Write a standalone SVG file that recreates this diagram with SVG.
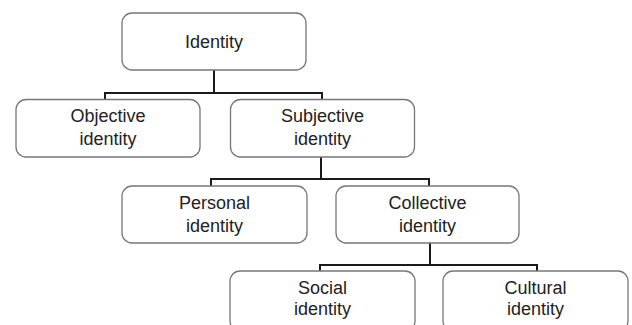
<svg xmlns="http://www.w3.org/2000/svg" width="632" height="325" viewBox="0 0 632 325">
<style>
.box{fill:#fff;stroke:#777;stroke-width:1.3}
.lbl{font-family:"Liberation Sans",Arial,sans-serif;font-size:18px;fill:#222;text-anchor:middle}
.conn{fill:none;stroke:#1a1a1a;stroke-width:2}
</style>
<rect width="632" height="325" fill="#fff"/>
<g id="connectors">
<path class="conn" d="M214 70 V93 M105 100 V93 H322 V100"/>
<path class="conn" d="M321 157 V179 M211 186 V179 H429 V186"/>
<path class="conn" d="M430 243 V265 M320 271 V265 H537 V271"/>
</g>
<g id="identity">
<rect class="box" x="122" y="13" width="184" height="57" rx="10"/>
<text class="lbl" x="214" y="48">Identity</text>
</g>
<g id="objective">
<rect class="box" x="16" y="99.5" width="184" height="57.5" rx="10"/>
<text class="lbl" x="108" y="122">Objective</text>
<text class="lbl" x="108" y="145">identity</text>
</g>
<g id="subjective">
<rect class="box" x="230.5" y="99.5" width="184" height="57.5" rx="10"/>
<text class="lbl" x="322.5" y="122">Subjective</text>
<text class="lbl" x="322.5" y="145">identity</text>
</g>
<g id="personal">
<rect class="box" x="122" y="186" width="185" height="57" rx="10"/>
<text class="lbl" x="214.5" y="209">Personal</text>
<text class="lbl" x="214.5" y="231.5">identity</text>
</g>
<g id="collective">
<rect class="box" x="336" y="186" width="183" height="57" rx="10"/>
<text class="lbl" x="427.5" y="209">Collective</text>
<text class="lbl" x="427.5" y="231.5">identity</text>
</g>
<g id="social">
<rect class="box" x="230" y="271" width="185" height="60" rx="10"/>
<text class="lbl" x="322.5" y="294">Social</text>
<text class="lbl" x="322.5" y="315">identity</text>
</g>
<g id="cultural">
<rect class="box" x="443" y="271" width="185" height="60" rx="10"/>
<text class="lbl" x="535.5" y="294">Cultural</text>
<text class="lbl" x="535.5" y="315">identity</text>
</g>
</svg>
